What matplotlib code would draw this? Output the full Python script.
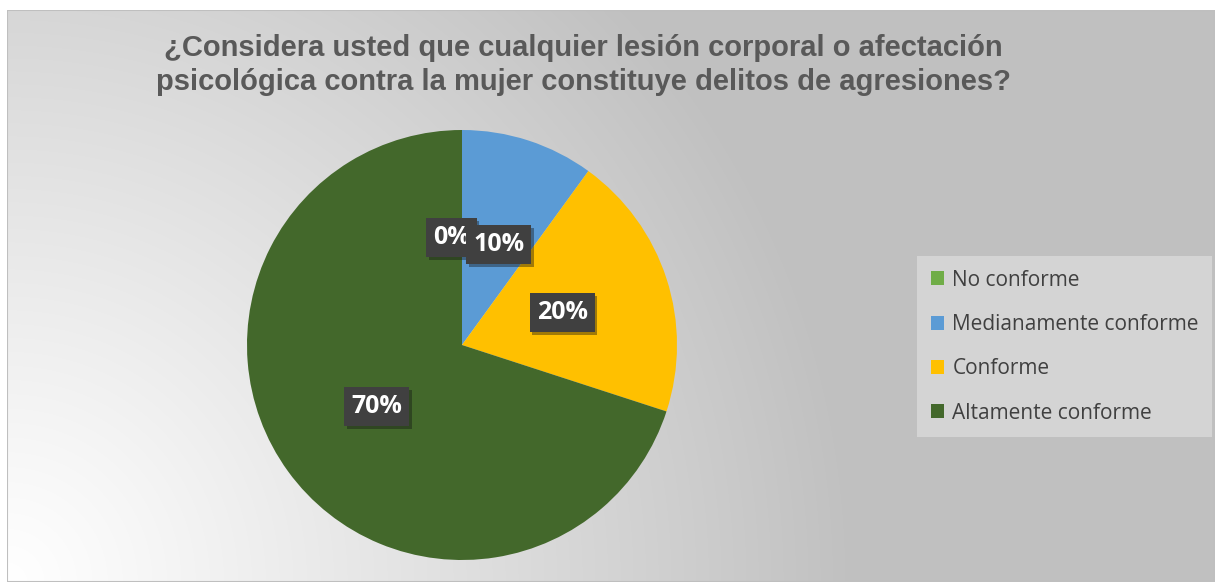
import numpy as np
import matplotlib.pyplot as plt
import matplotlib.patheffects as pe
from matplotlib.patches import Patch, Rectangle

categorias = ['No conforme', 'Medianamente conforme', 'Conforme', 'Altamente conforme']
porcentajes = [0, 10, 20, 70]
colores = ['#70AD47', '#5B9BD5', '#FFC000', '#43682B']
titulo = '¿Considera usted que cualquier lesión corporal o afectación\npsicológica contra la mujer constituye delitos de agresiones?'

W, H = 1215, 582
fig = plt.figure(figsize=(W / 100, H / 100), dpi=100)
fig.patch.set_facecolor('white')

# fondo degradado (claro abajo a la izquierda, gris a la derecha)
top = 10
bg = fig.add_axes([7 / W, 0, 1 - 7 / W, (H - top) / H])
bg.set_axis_off()
h, w = H - top, W - 7
yy, xx = np.mgrid[0:h, 0:w]
d = np.sqrt(xx ** 2 + (h - yy) ** 2)
val = 255 - (255 - 192) * np.clip(d / 850, 0, 1) ** 1.1
img = np.dstack([val, val, val]) / 255
bg.imshow(img, aspect='auto', extent=(0, 1, 0, 1), origin='upper')
bg.add_patch(Rectangle((0, 0), 1, 1, transform=bg.transAxes, fill=False,
                       edgecolor='#bfbfbf', linewidth=1.5))
bg.set_xlim(0, 1)
bg.set_ylim(0, 1)

fig.text(583 / W, 1 - 65 / H, titulo, ha='center', va='center', fontsize=21,
         fontweight='bold', color='#595959', family='Liberation Sans', linespacing=1.25)

# pastel
cx, cy, r = 462, 345, 215
ax = fig.add_axes([(cx - r) / W, (H - cy - r) / H, 2 * r / W, 2 * r / H])
wedges, texts, autotexts = ax.pie(porcentajes, colors=colores, startangle=90, counterclock=False,
                                  autopct='%1.0f%%', pctdistance=0.49, radius=1,
                                  wedgeprops=dict(linewidth=0))
for t in autotexts:
    t.set_color('white')
    t.set_fontsize(18)
    t.set_fontweight('bold')
    t.set_family('Open Sans')
    t.set_bbox(dict(boxstyle='square,pad=0.28', facecolor='#404040', edgecolor='none'))
    t.get_bbox_patch().set_path_effects([pe.SimplePatchShadow(offset=(2, -2), alpha=0.4), pe.Normal()])
x0, y0 = autotexts[0].get_position()
autotexts[0].set_position((x0 - 0.05, y0 + 0.01))
x1, y1 = autotexts[1].get_position()
autotexts[1].set_position((x1 + 0.02, y1))
ax.set_xlim(-1, 1)
ax.set_ylim(-1, 1)
ax.set_aspect('equal')

handles = [Patch(facecolor=c, edgecolor='none') for c in colores]
leg = fig.legend(handles, categorias, loc='upper left', bbox_to_anchor=(917 / W, 1 - 256 / H),
                 frameon=True, fancybox=False, framealpha=1, facecolor='#d4d4d4', edgecolor='none',
                 prop={'family': 'Open Sans', 'size': 15}, labelspacing=1.12,
                 handlelength=0.65, handleheight=0.65, handletextpad=0.4, borderpad=0.65,
                 borderaxespad=0)
for t in leg.get_texts():
    t.set_color('#404040')

fig.savefig('out.png', dpi=100)
